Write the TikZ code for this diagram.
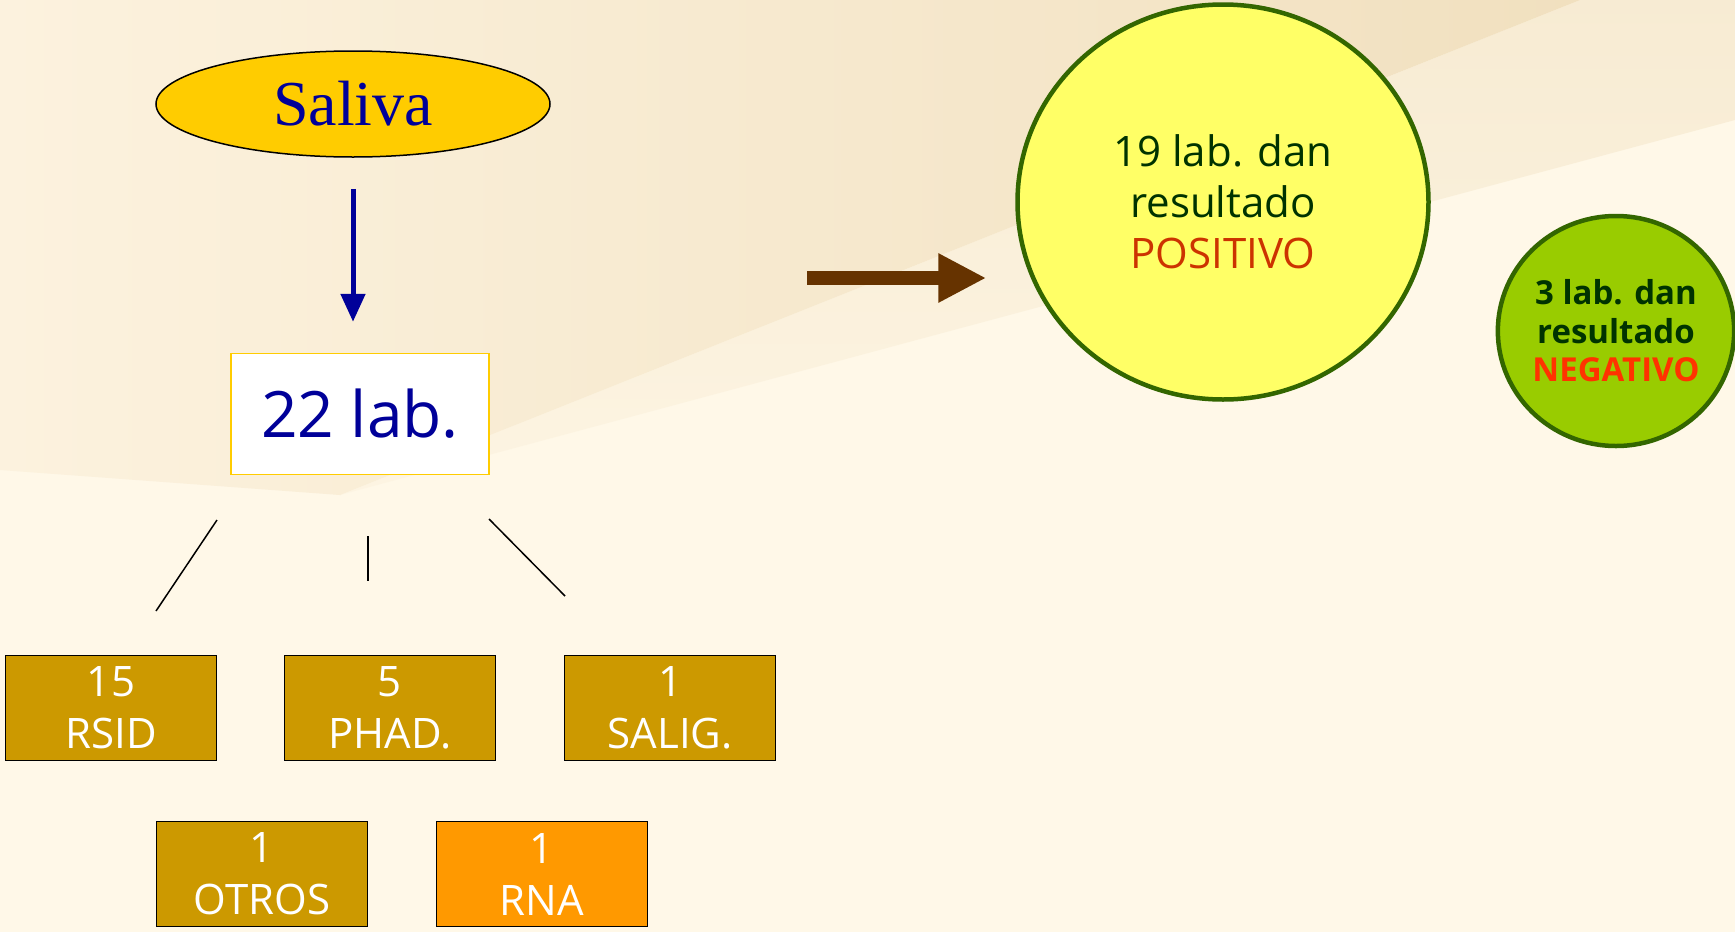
\documentclass[tikz,border=0pt]{standalone}
\usepackage{fontspec}
\setmainfont{Liberation Serif}
\newfontfamily\comic{Open Sans}
\usetikzlibrary{shapes.geometric,arrows.meta}
\definecolor{sand}{HTML}{F1E0BF}
\definecolor{sandlight}{HTML}{FCF2DE}
\definecolor{cream}{HTML}{FFF8E8}
\definecolor{gold}{HTML}{FFCC00}
\definecolor{navy}{HTML}{000099}
\definecolor{ochre}{HTML}{CC9900}
\definecolor{amber}{HTML}{FF9900}
\definecolor{bark}{HTML}{663300}
\definecolor{lemon}{HTML}{FFFF66}
\definecolor{lime}{HTML}{99CC00}
\definecolor{moss}{HTML}{336600}
\definecolor{pine}{HTML}{003300}
\definecolor{brick}{HTML}{CC3300}
\definecolor{scarlet}{HTML}{FF3300}

\tikzset{
  labbox/.style={draw=black, line width=1.5pt, fill=ochre, text=white,
    minimum width=211pt, minimum height=105pt, inner sep=0pt, align=center,
    font=\comic\fontsize{42}{52}\selectfont},
  result/.style={ellipse, draw=moss, line width=4.5pt, inner sep=0pt,
    align=center, text=pine},
}

\begin{document}
\begin{tikzpicture}[x=1pt,y=-1pt]
  % Background
  \fill [cream] (0, 0) rectangle (1735, 932);
  \shade [left color=sandlight, right color=sand] (0, 0) -- (1580, 0) -- (340, 495) -- (0, 470) -- cycle;
  \shade [top color=sand, bottom color=sandlight, opacity=0.5] (340, 495) -- (1580, 0) -- (1735, 0) -- (1735, 120) -- cycle;
  \useasboundingbox (0, 0) rectangle (1735, 932);

  \node[ellipse, draw=black, line width=1.5pt, fill=gold, minimum width=394pt,
        minimum height=106pt, inner sep=0pt, text=navy,
        font=\fontsize{64}{70}\selectfont] (saliva) at (353, 104) {Saliva};
  \node[draw=gold, line width=1.5pt, fill=white, minimum width=258pt,
        minimum height=121pt, inner sep=0pt, text=navy,
        font=\comic\fontsize{64}{70}\selectfont] (total) at (360, 414) {22 lab.};

  \draw[navy, line width=5pt, -{Triangle[length=28pt,width=24pt]},
        shorten <=31pt, shorten >=31pt] (saliva.south) -- (saliva.south |- total.north);

  % Branches
  \coordinate (l1a) at (217, 520); \coordinate (l1b) at (156, 611);
  \coordinate (l2a) at (368, 536); \coordinate (l2b) at (368, 581);
  \coordinate (l3a) at (489, 519); \coordinate (l3b) at (565, 596);
  \draw[line width=1.5pt] (l1a) -- (l1b);
  \draw[line width=1.5pt] (l2a) -- (l2b);
  \draw[line width=1.5pt] (l3a) -- (l3b);

  \node[labbox] (rsid)  at (111, 708) {15\\RSID};
  \node[labbox] (phad)  at (390, 708) {5\\PHAD.};
  \node[labbox] (salig) at (670, 708) {1\\SALIG.};
  \node[labbox] (otros) at (262, 874) {1\\OTROS};
  \node[labbox, fill=amber] (rna) at (542, 874) {1\\RNA};

  % Results
  \node[result, fill=lemon, minimum width=411pt, minimum height=395pt,
        font=\comic\fontsize{42}{51}\selectfont] (positive) at (1223, 202)
        {19 lab. dan\\resultado\\\textcolor{brick}{POSITIVO}};
  \node[result, fill=lime, minimum width=231pt, minimum height=230pt,
        font=\comic\bfseries\fontsize{33}{38.5}\selectfont] (negative) at (1616, 331)
        {3 lab. dan\\resultado\\\textcolor{scarlet}{NEGATIVO}};

  \coordinate (tail) at (807, 278);
  \draw[bark, line width=14pt, -{Triangle[length=48pt,width=46pt]},
        shorten >=29pt] (tail) -- (tail -| positive.west);
\end{tikzpicture}
\end{document}
